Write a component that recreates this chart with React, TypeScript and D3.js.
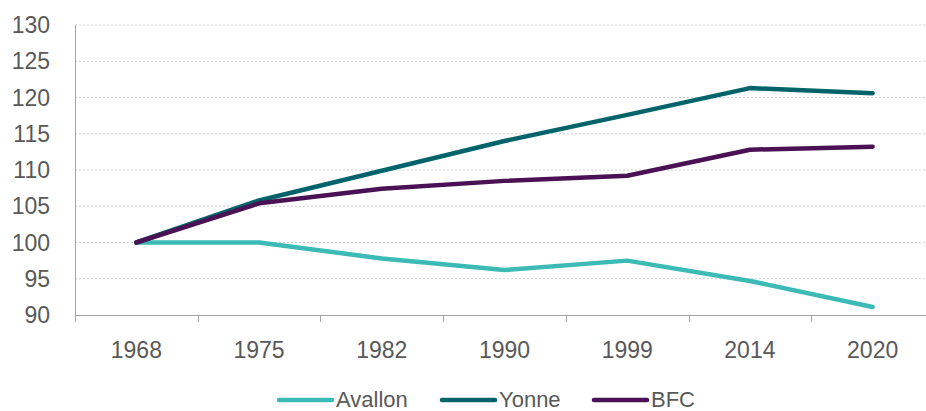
import * as d3 from "d3";
import { useRef, useEffect } from "react";

const years = ["1968", "1975", "1982", "1990", "1999", "2014", "2020"];
const avallon = [100, 100, 97.8, 96.2, 97.5, 94.7, 91.1];
const yonne = [100, 105.8, 109.9, 114.0, 117.6, 121.3, 120.6];
const bfc = [100, 105.4, 107.4, 108.5, 109.2, 112.8, 113.2];
const yTicks = [90, 95, 100, 105, 110, 115, 120, 125, 130];

const series = [
  { name: "Avallon", values: avallon, color: "#3bbab6" },
  { name: "Yonne", values: yonne, color: "#02636b" },
  { name: "BFC", values: bfc, color: "#4a1254" },
];

function App() {
  const svgRef = useRef(null);

  useEffect(() => {
    const WIDTH = 926;
    const HEIGHT = 411;
    const font = "Liberation Sans, Arial, sans-serif";
    const FS = 23;

    const svg = d3.select(svgRef.current);
    svg.selectAll("*").remove();
    svg.attr("width", WIDTH).attr("height", HEIGHT);

    const x = d3.scaleBand().domain(years).range([75, 934]);
    const y = d3.scaleLinear().domain([90, 130]).range([315, 25]);

    // grid
    svg.append("g").selectAll("line")
      .data(yTicks.filter(t => t !== 90))
      .join("line")
      .attr("x1", 75).attr("x2", 934)
      .attr("y1", d => y(d)).attr("y2", d => y(d))
      .attr("stroke", "#d0d0d0")
      .attr("stroke-dasharray", "2,2");

    // y axis line
    svg.append("line")
      .attr("x1", 75.5).attr("x2", 75.5)
      .attr("y1", y(130)).attr("y2", y(90))
      .attr("stroke", "#a6a6a6");

    // x axis
    svg.append("line")
      .attr("x1", 75).attr("x2", 934)
      .attr("y1", y(90) + 0.5).attr("y2", y(90) + 0.5)
      .attr("stroke", "#a6a6a6");

    svg.append("g").selectAll("line")
      .data(years.concat(["end"]))
      .join("line")
      .attr("x1", (d, i) => Math.round(75 + i * x.bandwidth()) + 0.5)
      .attr("x2", (d, i) => Math.round(75 + i * x.bandwidth()) + 0.5)
      .attr("y1", y(90)).attr("y2", y(90) + 7)
      .attr("stroke", "#a6a6a6");

    svg.append("g").selectAll("text")
      .data(yTicks)
      .join("text")
      .attr("x", 50).attr("y", d => y(d))
      .attr("dy", "0.35em")
      .attr("text-anchor", "end")
      .attr("font-family", font)
      .attr("font-size", FS)
      .attr("fill", "#595959")
      .text(d => d);

    svg.append("g").selectAll("text")
      .data(years)
      .join("text")
      .attr("x", d => x(d) + x.bandwidth() / 2)
      .attr("y", 358)
      .attr("text-anchor", "middle")
      .attr("font-family", font)
      .attr("font-size", FS)
      .attr("fill", "#595959")
      .text(d => d);

    const line = d3.line()
      .x((d, i) => x(years[i]) + x.bandwidth() / 2)
      .y(d => y(d));

    svg.append("g").selectAll("path")
      .data(series)
      .join("path")
      .attr("d", d => line(d.values))
      .attr("fill", "none")
      .attr("stroke", d => d.color)
      .attr("stroke-width", 4.5)
      .attr("stroke-linecap", "round")
      .attr("stroke-linejoin", "round");

    // legend
    const legendX = [277, 440, 592];
    const legend = svg.append("g").selectAll("g")
      .data(series)
      .join("g")
      .attr("transform", (d, i) => `translate(${legendX[i]}, 400)`);

    legend.append("line")
      .attr("x1", 2).attr("x2", 55)
      .attr("stroke", d => d.color)
      .attr("stroke-width", 4.5)
      .attr("stroke-linecap", "round");

    legend.append("text")
      .attr("x", 59).attr("y", 7)
      .attr("font-family", font)
      .attr("font-size", FS - 1)
      .attr("fill", "#595959")
      .text(d => d.name);
  }, []);

  return (
    <div style={{ position: "absolute", left: 0, top: 0 }}>
      <svg ref={svgRef} style={{ display: "block" }} />
    </div>
  );
}

export default App;
